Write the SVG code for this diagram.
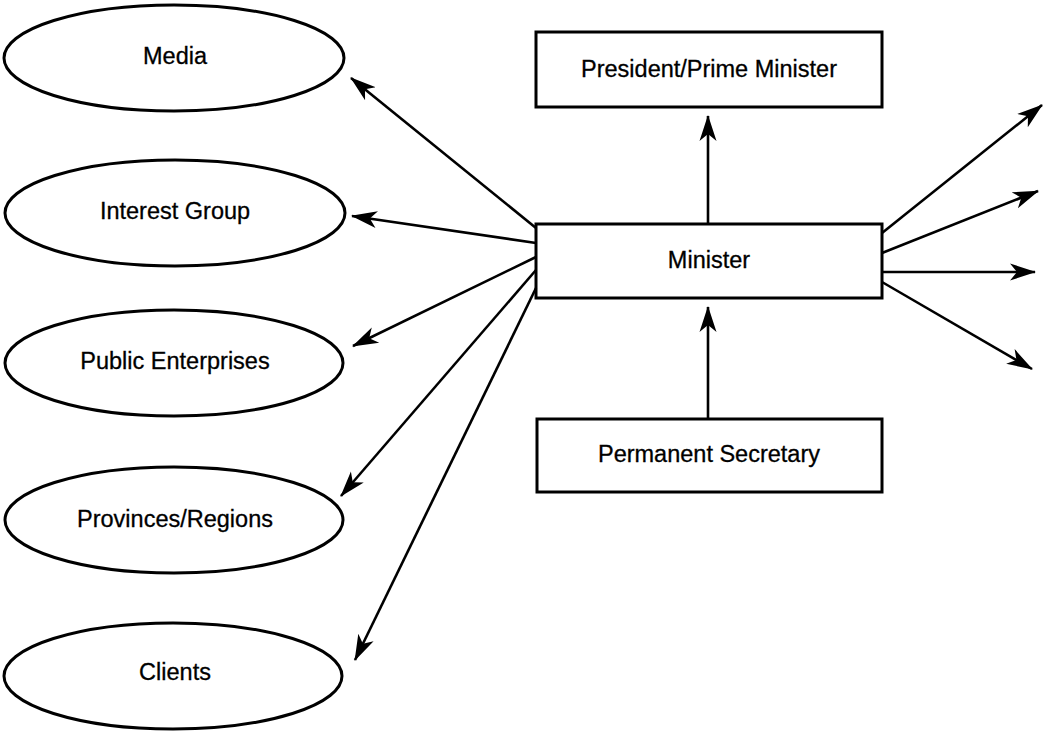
<svg xmlns="http://www.w3.org/2000/svg" width="1049" height="731" viewBox="0 0 1049 731">
<style>
.n{fill:#fff;stroke:#000;stroke-width:3}
.t{font-family:"Liberation Sans",Arial,Helvetica,sans-serif;font-size:23.5px;fill:#000;stroke:#000;stroke-width:0.3;text-anchor:middle}
.c line{stroke:#000;stroke-width:2.6;marker-end:url(#ah)}
</style>
<defs>
<marker id="ah" markerUnits="userSpaceOnUse" markerWidth="26" markerHeight="20" viewBox="0 0 26 20" refX="25" refY="10" orient="auto">
<path d="M26,10 L0,1.5 L7,10 L0,18.5 Z" fill="#000"/>
</marker>
</defs>
<rect width="1049" height="731" fill="#fff"/>
<g id="media"><ellipse class="n" cx="174" cy="58" rx="170" ry="53"/><text class="t" x="175" y="64">Media</text></g>
<g id="interest-group"><ellipse class="n" cx="175" cy="213" rx="170" ry="53"/><text class="t" x="175" y="219">Interest Group</text></g>
<g id="public-enterprises"><ellipse class="n" cx="174" cy="363" rx="169" ry="53"/><text class="t" x="175" y="369">Public Enterprises</text></g>
<g id="provinces-regions"><ellipse class="n" cx="174" cy="520" rx="169" ry="53"/><text class="t" x="175" y="527">Provinces/Regions</text></g>
<g id="clients"><ellipse class="n" cx="173" cy="676" rx="169" ry="53"/><text class="t" x="175" y="680">Clients</text></g>
<g id="president"><rect class="n" x="536" y="32" width="346" height="75"/><text class="t" x="709" y="77">President/Prime Minister</text></g>
<g id="minister"><rect class="n" x="536" y="224" width="346" height="74"/><text class="t" x="709" y="268">Minister</text></g>
<g id="permanent-secretary"><rect class="n" x="537" y="419" width="345" height="73"/><text class="t" x="709" y="462">Permanent Secretary</text></g>
<g id="connectors" class="c">
<line x1="708" y1="224" x2="708" y2="116"/>
<line x1="708" y1="419" x2="708" y2="307"/>
<line x1="536" y1="228" x2="351" y2="78"/>
<line x1="536" y1="243" x2="352" y2="216"/>
<line x1="536" y1="257" x2="353" y2="346"/>
<line x1="536" y1="270" x2="341" y2="496"/>
<line x1="536" y1="288" x2="355" y2="660"/>
<line x1="882" y1="233" x2="1042" y2="105"/>
<line x1="882" y1="253" x2="1038" y2="191"/>
<line x1="882" y1="272" x2="1035" y2="272"/>
<line x1="882" y1="282" x2="1032" y2="369"/>
</g>
</svg>
